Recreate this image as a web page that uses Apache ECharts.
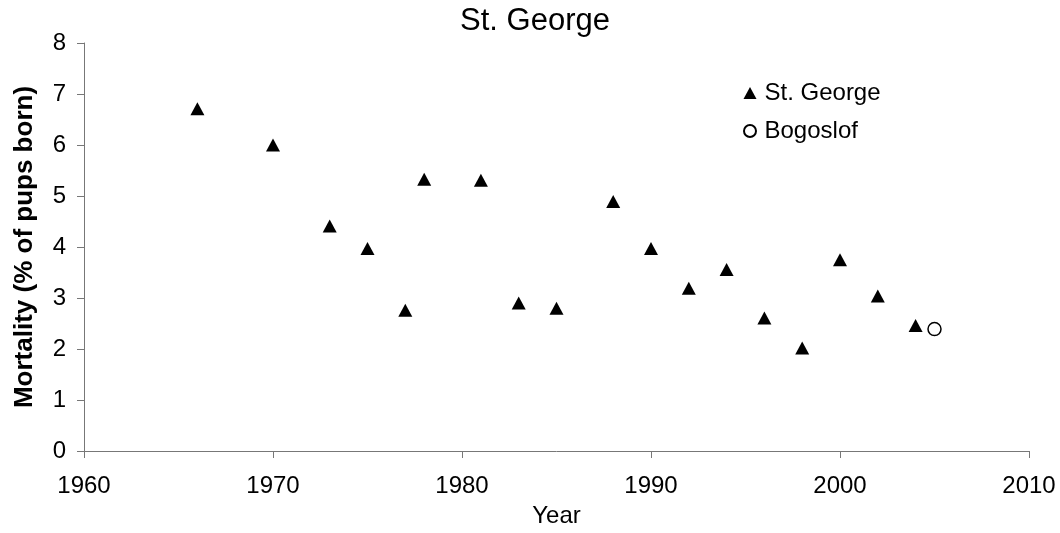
<!DOCTYPE html>
<html><head><meta charset="utf-8">
<script src="https://cdn.jsdelivr.net/npm/echarts@6/dist/echarts.min.js"></script>
<style>html,body{margin:0;padding:0;background:#fff}#c{width:1060px;height:533px}</style>
</head><body><div id="c"></div>
<script>
const stGeorgeYears = [1966,1970,1973,1975,1977,1978,1981,1983,1985,1988,1990,1992,1994,1996,1998,2000,2002,2004];
const stGeorgeValues = [6.71,6.0,4.41,3.97,2.76,5.33,5.31,2.9,2.8,4.89,3.97,3.19,3.56,2.61,2.02,3.75,3.04,2.46];
const bogoslofYears = [2005];
const bogoslofValues = [2.39];
const F = 'Liberation Sans, Arial, sans-serif';
const chart = echarts.init(document.getElementById('c'));
chart.setOption({
  animation:false,
  title:{text:'St. George',left:535,textAlign:'center',top:6,padding:0,textStyle:{fontFamily:F,fontSize:31,fontWeight:'normal',color:'#000'}},
  legend:{orient:'vertical',left:743,top:81,padding:0,itemGap:14,itemWidth:13,itemHeight:12,
    textStyle:{fontFamily:F,fontSize:24,color:'#000',padding:[0,0,0,3]},
    data:[{name:'St. George',icon:'triangle'},{name:'Bogoslof',icon:'circle'}]},
  grid:{left:84,right:31,top:43,bottom:80},
  xAxis:{type:'value',min:1960,max:2010,interval:10,name:'Year',nameLocation:'middle',nameGap:53,
    nameTextStyle:{fontFamily:F,fontSize:24,color:'#000'},
    axisLine:{lineStyle:{color:'#777',width:1}},axisTick:{show:true,length:7,lineStyle:{color:'#777'}},
    splitLine:{show:false},axisLabel:{fontFamily:F,fontSize:24,color:'#000',margin:23,formatter:v=>String(v)}},
  yAxis:{type:'value',min:0,max:8,interval:1,name:'Mortality (% of pups born)',nameLocation:'middle',nameGap:46,
    nameTextStyle:{fontFamily:F,fontSize:26,fontWeight:'bold',color:'#000'},
    axisLine:{show:true,lineStyle:{color:'#777',width:1}},axisTick:{show:true,length:7,lineStyle:{color:'#777'}},
    splitLine:{show:false},axisLabel:{fontFamily:F,fontSize:24,color:'#000',margin:18}},
  series:[
    {name:'St. George',type:'scatter',symbol:'triangle',symbolSize:[14,13],
     itemStyle:{color:'#000',opacity:1},data:stGeorgeYears.map((y,i)=>[y,stGeorgeValues[i]])},
    {name:'Bogoslof',type:'scatter',symbol:'circle',symbolSize:13,
     itemStyle:{color:'#fff',borderColor:'#000',borderWidth:1.5,opacity:1},data:bogoslofYears.map((y,i)=>[y,bogoslofValues[i]])}
  ]
});
</script></body></html>
